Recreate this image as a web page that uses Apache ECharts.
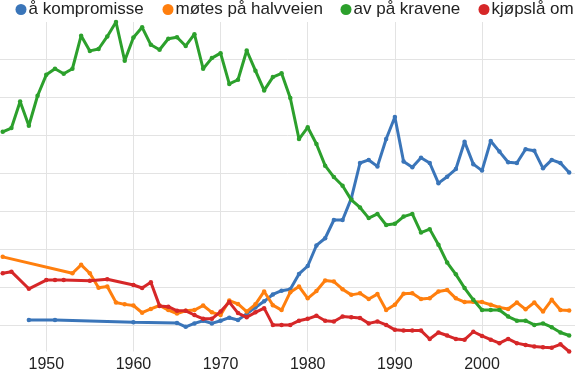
<!DOCTYPE html>
<html><head><meta charset="utf-8">
<script src="https://cdn.jsdelivr.net/npm/echarts@6/dist/echarts.min.js"></script>
<style>html,body{margin:0;padding:0;background:#fff}#c{width:575px;height:375px}</style>
</head><body><div id="c"></div>
<script>
function range(a, b) { var r = []; for (var i = a; i <= b; i++) r.push(i); return r; }

var seriesNames = ['å kompromisse', 'møtes på halvveien', 'av på kravene', 'kjøpslå om'];
var xTicks = [1950, 1960, 1970, 1980, 1990, 2000];

var kompromisseYears = [1948, 1951, 1960].concat(range(1965, 2010));
var kompromisseValues = [1.13, 1.13, 1.07,
  1.05, 0.95, 1.04, 1.11, 1.04, 1.11, 1.19, 1.13, 1.29, 1.46,
  1.62, 1.80, 1.90, 1.94, 2.34, 2.55, 3.09, 3.28, 3.76, 3.76,
  4.33, 5.26, 5.34, 5.17, 5.89, 6.47, 5.30, 5.15, 5.40, 5.26,
  4.73, 4.90, 5.10, 5.82, 5.23, 5.06, 5.84, 5.56, 5.28, 5.26,
  5.62, 5.58, 5.12, 5.34, 5.26, 5.01];

var halvveienYears = [1945].concat(range(1953, 2010));
var halvveienValues = [2.79,
  2.36, 2.58, 2.36, 1.98, 2.01, 1.59, 1.54, 1.51, 1.32, 1.42,
  1.51, 1.39, 1.30, 1.37, 1.39, 1.51, 1.33, 1.26, 1.64, 1.55,
  1.35, 1.54, 1.88, 1.52, 1.39, 1.86, 2.01, 1.70, 1.89, 2.17,
  2.14, 1.94, 1.79, 1.83, 1.68, 1.81, 1.39, 1.53, 1.82, 1.83,
  1.68, 1.70, 1.88, 1.92, 1.70, 1.60, 1.61, 1.60, 1.53, 1.46,
  1.42, 1.59, 1.41, 1.59, 1.35, 1.66, 1.39, 1.38];

var kraveneYears = range(1945, 2010);
var kraveneValues = [
  6.08, 6.18, 6.88, 6.24, 7.03, 7.58, 7.74, 7.61, 7.74, 8.61,
  8.21, 8.26, 8.59, 8.97, 7.95, 8.56, 8.83, 8.37, 8.24, 8.53,
  8.57, 8.34, 8.65, 7.74, 8.02, 8.15, 7.34, 7.45, 8.22, 7.69,
  7.17, 7.52, 7.62, 6.97, 5.89, 6.20, 5.76, 5.19, 4.89, 4.66,
  4.29, 4.09, 3.81, 3.92, 3.63, 3.66, 3.85, 3.92, 3.43, 3.52,
  3.11, 2.64, 2.33, 1.97, 1.66, 1.39, 1.39, 1.39, 1.22, 1.11,
  1.11, 1.00, 1.04, 0.94, 0.80, 0.72];

var kjopslaYears = [1945, 1946, 1948, 1950, 1951, 1952, 1955, 1957].concat(range(1960, 2010));
var kjopslaValues = [2.36, 2.40, 1.95, 2.18, 2.18, 2.18, 2.16, 2.20,
  2.05, 1.97, 2.12, 1.50, 1.48, 1.37, 1.37, 1.26, 1.16, 1.16,
  1.35, 1.60, 1.31, 1.20, 1.33, 1.44, 1.00, 1.00, 1.00, 1.11,
  1.16, 1.24, 1.11, 1.09, 1.22, 1.20, 1.18, 1.04, 1.09, 1.00,
  0.87, 0.85, 0.85, 0.85, 0.63, 0.80, 0.72, 0.63, 0.61, 0.82,
  0.71, 0.61, 0.52, 0.63, 0.52, 0.47, 0.43, 0.41, 0.40, 0.49, 0.30];

var colors = ['#3a75b9', '#ff7f0e', '#2ca02c', '#d62728'];
var allYears = [kompromisseYears, halvveienYears, kraveneYears, kjopslaYears];
var allValues = [kompromisseValues, halvveienValues, kraveneValues, kjopslaValues];

function pairs(ys, vs) { return ys.map(function (y, i) { return [y, vs[i]]; }); }

var font = '"Liberation Sans", Arial, sans-serif';
var legendLefts = [15.5, 162.5, 340.5, 478.5];

var chart = echarts.init(document.getElementById('c'), null, { renderer: 'canvas' });
chart.setOption({
  animation: false,
  backgroundColor: '#fff',
  legend: seriesNames.map(function (n, i) {
    return {
      data: [n], left: legendLefts[i], top: 1, padding: 0,
      icon: 'circle', itemWidth: 11, itemHeight: 11,
      textStyle: { fontSize: 17, color: '#222', fontFamily: font, padding: [0, 0, 0, -3] },
      selectedMode: false
    };
  }),
  grid: [
    { left: 0, right: 0, top: 22, bottom: 23.5 },
    { left: 46.3, right: 93, top: 22, bottom: 23.5 },
    { left: 0, right: 0, top: 21, bottom: 12 }
  ],
  xAxis: [
    { gridIndex: 0, type: 'value', min: 1944.69, max: 2010.67, show: false },
    { gridIndex: 1, type: 'value', min: xTicks[0], max: xTicks[xTicks.length - 1], interval: 10,
      axisLine: { show: false }, axisTick: { show: false },
      axisLabel: { fontSize: 16, color: '#222', fontFamily: font, margin: 5, formatter: function (v) { return String(v); } },
      splitLine: { show: true, lineStyle: { color: '#e3e3e3', width: 1 } } },
    { gridIndex: 2, type: 'value', min: 0, max: 1, show: false }
  ],
  yAxis: [
    { gridIndex: 0, type: 'value', min: 0.3, max: 8.97, show: false },
    { gridIndex: 1, type: 'value', min: 0, max: 1, show: false },
    { gridIndex: 2, type: 'value', min: 0, max: 9, interval: 1,
      axisLine: { show: false }, axisTick: { show: false }, axisLabel: { show: false },
      splitLine: { show: true, showMinLine: false, showMaxLine: false, lineStyle: { color: '#e3e3e3', width: 1 } } }
  ],
  series: seriesNames.map(function (n, i) {
    return {
      name: n, type: 'line', xAxisIndex: 0, yAxisIndex: 0,
      data: pairs(allYears[i], allValues[i]),
      color: colors[i],
      symbol: 'circle', symbolSize: 4.5, showSymbol: true,
      lineStyle: { width: 3, color: colors[i] },
      itemStyle: { color: colors[i] },
      clip: false, z: 3 + i
    };
  })
});
</script></body></html>
